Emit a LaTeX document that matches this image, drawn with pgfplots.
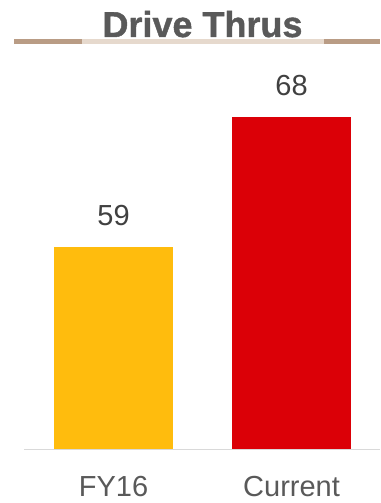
\documentclass[border=0pt]{standalone}
\usepackage{pgfplots}
\pgfplotsset{compat=1.18}
\usepackage{fontspec}
\setmainfont{Liberation Sans}
\newfontfamily\titlefont{Liberation Sans}[BoldFeatures={FakeBold=1.2}]
\definecolor{mcyellow}{HTML}{FFBC0D}
\definecolor{mcred}{HTML}{DB0007}
\definecolor{txtgray}{HTML}{595959}
\definecolor{numgray}{HTML}{404040}
\definecolor{tandark}{HTML}{B99C85}
\definecolor{tanlight}{HTML}{E6D9CD}
\definecolor{axisgray}{HTML}{D9D9D9}
\begin{document}
\begin{tikzpicture}[x=1pt,y=1pt]
\path[use as bounding box] (0,0) rectangle (380,503);
% title
\node[anchor=base, text=txtgray, inner sep=0pt] at (202.5,466)
  {\fontsize{36}{40}\titlefont\bfseries Drive Thrus};
\draw[tandark, line width=5pt] (14,461.5) -- (82,461.5);
\draw[tanlight, line width=5pt] (82,461.5) -- (324,461.5);
\draw[tandark, line width=5pt] (324,461.5) -- (380,461.5);
\begin{axis}[
  at={(24pt,54pt)}, anchor=south west,
  scale only axis, width=356pt, height=389pt,
  xmin=-0.503, xmax=1.497,
  ymin=45, ymax=71.93,
  axis x line=bottom, axis y line=none,
  axis line style={axisgray, line width=1pt, -},
  xtick={0,1}, xticklabels={FY16, Current},
  major tick length=0pt,
  xticklabel style={anchor=base, yshift=-47pt, text=txtgray,
    font=\fontsize{29}{34}\selectfont},
  ytick=\empty,
  /pgf/number format/assume math mode=true,
  ybar, bar width=0.669,
  bar shift=0pt,
  nodes near coords,
  every node near coord/.append style={anchor=south, inner sep=0pt,
    yshift=21pt, text=numgray, font=\fontsize{29}{34}\selectfont},
  clip=false,
]
\addplot[draw=none, fill=mcyellow] coordinates {(0,59)};
\addplot[draw=none, fill=mcred] coordinates {(1,68)};
\end{axis}
\end{tikzpicture}
\end{document}
